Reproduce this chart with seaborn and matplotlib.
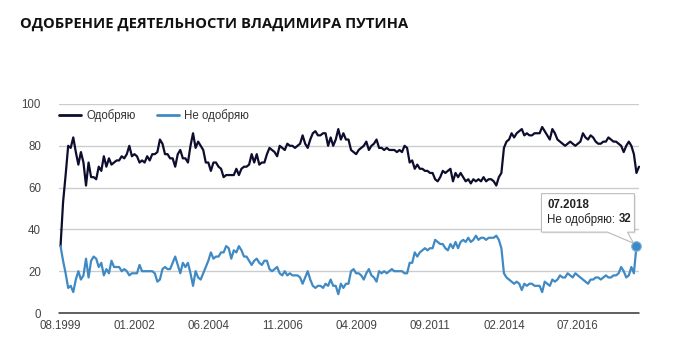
import numpy as np
import pandas as pd
import matplotlib
matplotlib.use("Agg")
import matplotlib.pyplot as plt
import seaborn as sns
from matplotlib.patches import Polygon
from matplotlib.lines import Line2D
from matplotlib.transforms import IdentityTransform

# ---------------- data (monthly, 08.1999 - 07.2018) ----------------
approve_1999 = [32, 53, 66, 80, 79]
approve_2000 = [84, 77, 71, 77, 72, 61, 72, 65, 65, 64, 70, 68]
approve_2001 = [75, 70, 74, 71, 72, 73, 73, 75, 74, 76, 80, 75]
approve_2002 = [76, 75, 72, 73, 72, 75, 73, 76, 76, 77, 83, 81]
approve_2003 = [76, 76, 74, 74, 70, 76, 78, 74, 74, 72, 80, 86]
approve_2004 = [79, 82, 80, 78, 72, 72, 68, 72, 72, 70, 69, 65]
approve_2005 = [66, 66, 66, 66, 69, 66, 69, 70, 70, 71, 76, 72]
approve_2006 = [76, 71, 72, 72, 76, 79, 78, 77, 75, 80, 79, 78]
approve_2007 = [81, 80, 80, 79, 80, 81, 85, 81, 79, 83, 86, 87]
approve_2008 = [85, 85, 86, 86, 80, 84, 80, 83, 88, 83, 86, 83]
approve_2009 = [83, 78, 77, 76, 78, 79, 80, 82, 78, 80, 81, 83]
approve_2010 = [79, 79, 78, 79, 78, 78, 78, 77, 78, 77, 80, 79]
approve_2011 = [72, 73, 69, 71, 69, 69, 68, 68, 67, 67, 64, 63]
approve_2012 = [65, 68, 67, 68, 69, 63, 67, 65, 67, 65, 63, 64]
approve_2013 = [62, 64, 63, 64, 63, 65, 63, 64, 64, 63, 61, 65]
approve_2014 = [67, 79, 82, 83, 86, 84, 86, 87, 88, 85, 86, 85]
approve_2015 = [85, 86, 86, 86, 89, 87, 85, 83, 88, 86, 83, 82]
approve_2016 = [81, 80, 81, 82, 81, 80, 81, 82, 86, 84, 83, 85]
approve_2017 = [84, 82, 81, 81, 82, 82, 84, 83, 82, 82, 81, 80]
approve_2018 = [77, 80, 82, 80, 76, 67, 70]

disapprove_1999 = [32, 25, 19, 12, 13]
disapprove_2000 = [10, 16, 20, 16, 18, 26, 17, 25, 27, 26, 22, 24]
disapprove_2001 = [18, 21, 19, 25, 22, 22, 22, 20, 21, 20, 18, 19]
disapprove_2002 = [19, 19, 23, 20, 20, 20, 20, 20, 19, 15, 16, 21]
disapprove_2003 = [22, 21, 21, 24, 27, 23, 19, 24, 22, 24, 19, 13]
disapprove_2004 = [20, 17, 16, 19, 22, 25, 29, 26, 27, 27, 29, 29]
disapprove_2005 = [32, 31, 26, 30, 29, 32, 30, 27, 27, 25, 23, 25]
disapprove_2006 = [26, 24, 23, 25, 25, 21, 20, 21, 22, 19, 18, 20]
disapprove_2007 = [18, 19, 18, 18, 18, 17, 14, 17, 20, 16, 13, 12]
disapprove_2008 = [13, 13, 12, 14, 13, 16, 13, 13, 9, 14, 12, 14]
disapprove_2009 = [14, 20, 21, 19, 19, 18, 16, 19, 21, 18, 17, 15]
disapprove_2010 = [20, 19, 20, 19, 20, 21, 20, 20, 20, 20, 19, 19]
disapprove_2011 = [24, 24, 29, 27, 29, 30, 31, 30, 31, 31, 35, 34]
disapprove_2012 = [33, 33, 31, 30, 33, 31, 34, 31, 34, 35, 34, 36]
disapprove_2013 = [34, 35, 37, 35, 36, 36, 35, 36, 36, 36, 37, 35]
disapprove_2014 = [31, 19, 17, 16, 15, 14, 15, 14, 11, 14, 13, 14]
disapprove_2015 = [14, 13, 13, 13, 10, 15, 14, 13, 16, 15, 16, 18]
disapprove_2016 = [17, 17, 19, 18, 17, 19, 18, 17, 16, 15, 14, 16]
disapprove_2017 = [16, 17, 17, 16, 17, 18, 17, 17, 18, 18, 19, 22]
disapprove_2018 = [20, 17, 18, 22, 19, 32, np.nan]

tick_labels = ["08.1999", "01.2002", "06.2004", "11.2006",
               "04.2009", "09.2011", "02.2014", "07.2016"]
series_names = ["Одобряю", "Не одобряю"]
title = "ОДОБРЕНИЕ ДЕЯТЕЛЬНОСТИ ВЛАДИМИРА ПУТИНА"
tooltip_date = "07.2018"
tooltip_value = 32

approve = sum([approve_1999, approve_2000, approve_2001, approve_2002, approve_2003,
               approve_2004, approve_2005, approve_2006, approve_2007, approve_2008,
               approve_2009, approve_2010, approve_2011, approve_2012, approve_2013,
               approve_2014, approve_2015, approve_2016, approve_2017, approve_2018], [])
disapprove = sum([disapprove_1999, disapprove_2000, disapprove_2001, disapprove_2002,
                  disapprove_2003, disapprove_2004, disapprove_2005, disapprove_2006,
                  disapprove_2007, disapprove_2008, disapprove_2009, disapprove_2010,
                  disapprove_2011, disapprove_2012, disapprove_2013, disapprove_2014,
                  disapprove_2015, disapprove_2016, disapprove_2017, disapprove_2018], [])

months = pd.period_range("1999-08", periods=len(approve), freq="M")
month_labels = [m.strftime("%m.%Y") for m in months]
idx = np.arange(len(months))

df = pd.DataFrame({
    "idx": np.concatenate([idx, idx]),
    "value": np.concatenate([approve, disapprove]),
    "series": [series_names[0]] * len(idx) + [series_names[1]] * len(idx),
})

# ---------------- style ----------------
sns.set_theme(style="white")
plt.rcParams["font.family"] = ["Liberation Sans", "DejaVu Sans"]

c_black = "#0d0d2e"
c_blue = "#3f8ac4"
palette = {series_names[0]: c_black, series_names[1]: c_blue}

W, H = 681, 359
fig = plt.figure(figsize=(W / 100, H / 100), dpi=100)
fig.patch.set_facecolor("white")
ax = fig.add_axes([59 / W, (H - 313) / H, (639 - 59) / W, (313 - 104) / H])

sns.lineplot(data=df.dropna(), x="idx", y="value", hue="series", palette=palette,
             hue_order=series_names, linewidth=1.6, ax=ax, legend=False,
             estimator=None, sort=True)
for ln in ax.lines:
    ln.set_clip_on(False)
    ln.set_solid_joinstyle("round")

ax.set_xlim(-0.6, len(idx) - 1)
ax.set_ylim(0, 100)
ax.set_yticks([0, 20, 40, 60, 80, 100])
ax.set_yticklabels(["0", "20", "40", "60", "80", "100"])
tick_pos = [month_labels.index(t) for t in tick_labels]
ax.set_xticks(tick_pos)
ax.set_xticklabels(tick_labels)
ax.set_xlabel("")
ax.set_ylabel("")
ax.tick_params(axis="both", length=0, labelsize=8.3, colors="#444444")
ax.tick_params(axis="y", pad=13)
ax.tick_params(axis="x", pad=5)

for v in [20, 40, 60, 80, 100]:
    ax.axhline(v, color="#cccccc", lw=1.0, zorder=0)
ax.axhline(0, color="#333333", lw=1.1, zorder=1, clip_on=False)
for s in ax.spines.values():
    s.set_visible(False)

# legend
handles = [Line2D([0], [0], color=c_black, lw=2.0),
           Line2D([0], [0], color=c_blue, lw=2.0)]
leg = ax.legend(handles, series_names, loc="center left", bbox_to_anchor=(0.0, 0.943),
                ncol=2, frameon=False, fontsize=8.3, handlelength=1.9,
                handletextpad=0.45, columnspacing=1.9, borderpad=0, borderaxespad=0)
for t in leg.get_texts():
    t.set_color("#333333")

# title
fig.text(20 / W, 1 - 24 / H, title, fontsize=10.6, fontweight="bold",
         family=["Open Sans", "DejaVu Sans"], color="#111111", va="center", ha="left")

# highlighted point + tooltip
last_i = int(np.where(~np.isnan(np.array(disapprove, dtype=float)))[0][-1])
ax.scatter([last_i], [disapprove[last_i]], s=48, color=c_blue, zorder=6,
           clip_on=False, edgecolor="#7fb2dc", linewidth=0.8)

fig.canvas.draw()
px, py = ax.transData.transform((last_i, disapprove[last_i]))
box = [(-95, 14), (-95, 52.5), (-2, 52.5), (-2, 14), (-9, 14), (-3, 3), (-29, 14)]
shadow = Polygon([(px + x + 1.5, py + y - 1.5) for x, y in box], closed=True,
                 transform=IdentityTransform(), facecolor="#000000", alpha=0.08,
                 edgecolor="none", zorder=7)
poly = Polygon([(px + x, py + y) for x, y in box], closed=True,
               transform=IdentityTransform(), facecolor="white",
               edgecolor="#bdbdbd", lw=0.8, zorder=8)
fig.patches.extend([shadow, poly])
fig.text((px - 89) / W, (py + 41.5) / H, tooltip_date, fontsize=8.3,
         fontweight="bold", color="#222222", va="center", ha="left", zorder=9)
t1 = fig.text((px - 89) / W, (py + 27) / H, series_names[1] + ": ", fontsize=8.3,
              color="#222222", va="center", ha="left", zorder=9)
fig.canvas.draw()
bb = t1.get_window_extent()
fig.text(bb.x1 / W, (py + 27) / H, str(tooltip_value), fontsize=8.3,
         fontweight="bold", color="#222222", va="center", ha="left", zorder=9)

fig.savefig("out.png", dpi=100, facecolor="white")
